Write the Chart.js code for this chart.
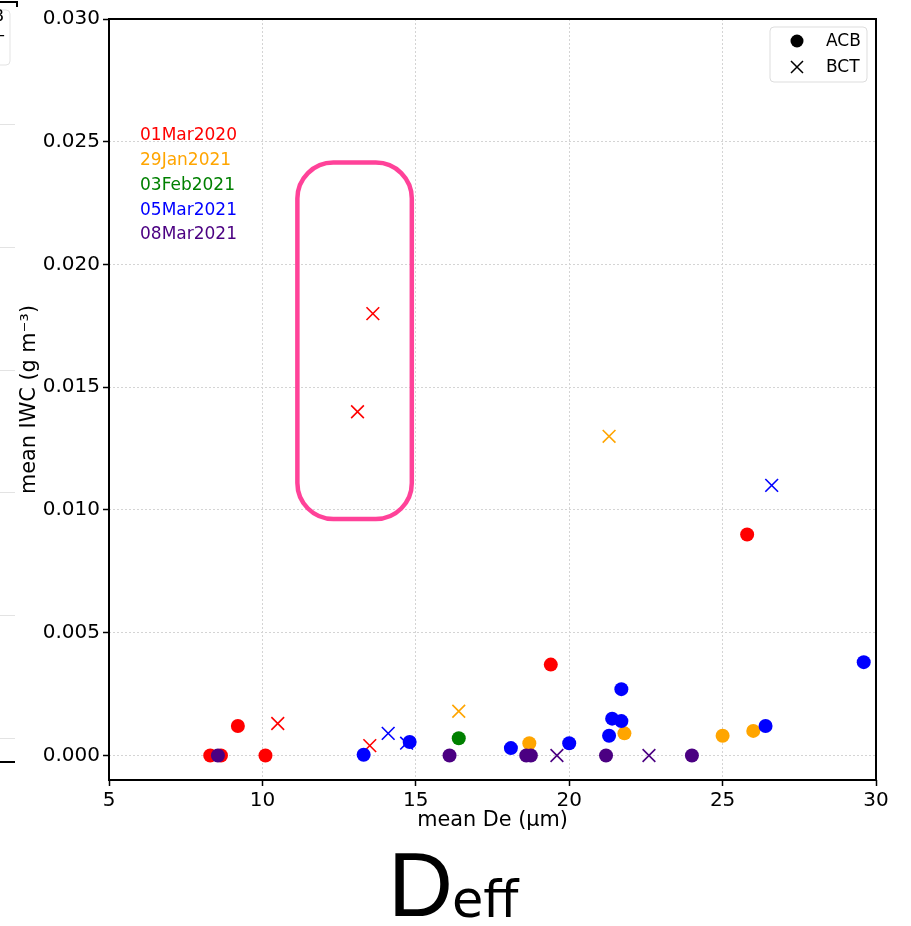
<!DOCTYPE html>
<html>
<head>
<meta charset="utf-8">
<title>mean IWC vs mean De</title>
<script src="https://cdn.jsdelivr.net/npm/chart.js@4.4.1/dist/chart.umd.min.js"></script>
<style>
  html, body { margin: 0; padding: 0; background: #ffffff; }
  #wrap { width: 911px; height: 926px; }
</style>
</head>
<body>
<div id="wrap"><canvas id="c" width="911" height="926"></canvas></div>
<script>
// ---- flight dates and their colours ----
const flightDates = ['01Mar2020', '29Jan2021', '03Feb2021', '05Mar2021', '08Mar2021'];
const flightColors = ['#ff0000', '#ffa500', '#008000', '#0000ff', '#4b0082'];

// ---- axis ticks ----
const xTicks = [5, 10, 15, 20, 25, 30];
const yTicks = [0.000, 0.005, 0.010, 0.015, 0.020, 0.025, 0.030];

// ---- 01Mar2020 ----
const mar2020AcbDe  = [8.3, 8.65, 9.2, 10.1, 19.4, 25.8];
const mar2020AcbIwc = [0.0, 0.0, 0.0012, 0.0, 0.0037, 0.009];
const mar2020BctDe  = [10.5, 13.5, 13.1, 13.6];
const mar2020BctIwc = [0.0013, 0.0004, 0.014, 0.018];

// ---- 29Jan2021 ----
const jan2021AcbDe  = [18.7, 21.8, 25.0, 26.0];
const jan2021AcbIwc = [0.0005, 0.0009, 0.0008, 0.001];
const jan2021BctDe  = [16.4, 21.3];
const jan2021BctIwc = [0.0018, 0.013];

// ---- 03Feb2021 ----
const feb2021AcbDe  = [16.4];
const feb2021AcbIwc = [0.0007];
const feb2021BctDe  = [];
const feb2021BctIwc = [];

// ---- 05Mar2021 ----
const mar2021aAcbDe  = [13.3, 14.8, 18.1, 20.0, 21.3, 21.4, 21.7, 21.7, 26.4, 29.6];
const mar2021aAcbIwc = [0.00003, 0.00055, 0.0003, 0.0005, 0.0008, 0.0015, 0.0014, 0.0027, 0.0012, 0.0038];
const mar2021aBctDe  = [14.1, 14.7, 26.6];
const mar2021aBctIwc = [0.0009, 0.0005, 0.011];

// ---- 08Mar2021 ----
const mar2021bAcbDe  = [8.55, 16.1, 18.6, 18.75, 21.2, 24.0];
const mar2021bAcbIwc = [0.0, 0.0, 0.0, 0.0, 0.0, 0.0];
const mar2021bBctDe  = [19.6, 22.6];
const mar2021bBctIwc = [0.0, 0.0];

// highlighted region (data units): De range and IWC range
const highlightDe  = [11.14, 14.87];
const highlightIwc = [0.00963, 0.02415];

const acbByFlight = [
  [mar2020AcbDe, mar2020AcbIwc], [jan2021AcbDe, jan2021AcbIwc], [feb2021AcbDe, feb2021AcbIwc],
  [mar2021aAcbDe, mar2021aAcbIwc], [mar2021bAcbDe, mar2021bAcbIwc]
];
const bctByFlight = [
  [mar2020BctDe, mar2020BctIwc], [jan2021BctDe, jan2021BctIwc], [feb2021BctDe, feb2021BctIwc],
  [mar2021aBctDe, mar2021aBctIwc], [mar2021bBctDe, mar2021bBctIwc]
];

function toPoints(xs, ys) { return xs.map((x, i) => ({ x: x, y: ys[i] })); }

// plotting sequence: per flight, BCT crosses then ACB dots; later ones sit on top
const datasets = [];
let seq = 0;
flightDates.forEach((d, i) => {
  datasets.push({
    label: d + ' BCT',
    data: toPoints(bctByFlight[i][0], bctByFlight[i][1]),
    pointStyle: 'crossRot',
    pointRadius: 9,
    pointHoverRadius: 9,
    borderColor: flightColors[i],
    backgroundColor: flightColors[i],
    pointBorderWidth: 1.6,
    order: 100 - (seq++)
  });
  datasets.push({
    label: d + ' ACB',
    data: toPoints(acbByFlight[i][0], acbByFlight[i][1]),
    pointStyle: 'circle',
    pointRadius: 7,
    pointHoverRadius: 7,
    borderColor: flightColors[i],
    backgroundColor: flightColors[i],
    pointBorderWidth: 0,
    order: 100 - (seq++)
  });
});

const FONT = 'DejaVu Sans';
Chart.defaults.font.family = FONT;
Chart.defaults.color = '#000000';

function roundRectPath(ctx, x, y, w, h, r) {
  ctx.beginPath();
  ctx.moveTo(x + r, y);
  ctx.lineTo(x + w - r, y);
  ctx.arcTo(x + w, y, x + w, y + r, r);
  ctx.lineTo(x + w, y + h - r);
  ctx.arcTo(x + w, y + h, x + w - r, y + h, r);
  ctx.lineTo(x + r, y + h);
  ctx.arcTo(x, y + h, x, y + h - r, r);
  ctx.lineTo(x, y + r);
  ctx.arcTo(x, y, x + r, y, r);
  ctx.closePath();
}

const decorations = {
  id: 'decorations',
  beforeDraw(chart) {
    const ctx = chart.ctx;
    ctx.save();
    ctx.fillStyle = '#ffffff';
    ctx.fillRect(0, 0, chart.width, chart.height);
    ctx.restore();
  },
  afterDraw(chart) {
    const ctx = chart.ctx;
    const a = chart.chartArea;
    const sx = chart.scales.x, sy = chart.scales.y;
    ctx.save();

    // axes frame
    ctx.strokeStyle = '#000000';
    ctx.lineWidth = 2;
    ctx.strokeRect(a.left, a.top, a.right - a.left, a.bottom - a.top);

    // highlighted region
    const hx0 = sx.getPixelForValue(highlightDe[0]);
    const hx1 = sx.getPixelForValue(highlightDe[1]);
    const hy0 = sy.getPixelForValue(highlightIwc[1]);
    const hy1 = sy.getPixelForValue(highlightIwc[0]);
    ctx.strokeStyle = '#ff4299';
    ctx.lineWidth = 4.5;
    roundRectPath(ctx, hx0, hy0, hx1 - hx0, hy1 - hy0, 36);
    ctx.stroke();

    // flight date labels
    ctx.font = '17px "' + FONT + '"';
    ctx.textAlign = 'left';
    ctx.textBaseline = 'middle';
    flightDates.forEach((d, i) => {
      ctx.fillStyle = flightColors[i];
      ctx.fillText(d, a.left + 31, a.top + 117 + i * 24.7);
    });

    // marker legend, upper right
    const lx = a.right - 106, ly = a.top + 8;
    ctx.strokeStyle = '#dddddd';
    ctx.lineWidth = 1;
    roundRectPath(ctx, lx, ly, 97, 55, 4);
    ctx.fillStyle = 'rgba(255,255,255,0.8)';
    ctx.fill();
    ctx.stroke();
    ctx.fillStyle = '#000000';
    ctx.beginPath();
    ctx.arc(lx + 27, ly + 14, 6.5, 0, Math.PI * 2);
    ctx.fill();
    ctx.strokeStyle = '#000000';
    ctx.lineWidth = 1.5;
    ctx.beginPath();
    ctx.moveTo(lx + 21, ly + 34); ctx.lineTo(lx + 33, ly + 46);
    ctx.moveTo(lx + 33, ly + 34); ctx.lineTo(lx + 21, ly + 46);
    ctx.stroke();
    ctx.font = '17px "' + FONT + '"';
    ctx.fillText('ACB', lx + 56, ly + 15);
    ctx.fillText('BCT', lx + 56, ly + 41);

    // edge of the neighbouring panel on the left
    ctx.strokeStyle = '#000000';
    ctx.lineWidth = 2;
    ctx.beginPath();
    ctx.moveTo(0, 2); ctx.lineTo(17, 2); ctx.lineTo(17, 7);
    ctx.moveTo(0, 762); ctx.lineTo(15, 762);
    ctx.stroke();
    ctx.strokeStyle = '#e3e3e3';
    ctx.lineWidth = 1;
    [124, 247, 370, 492, 615, 738].forEach(y => {
      ctx.beginPath(); ctx.moveTo(0, y + 0.5); ctx.lineTo(15, y + 0.5); ctx.stroke();
    });
    roundRectPath(ctx, -20, 10, 30, 55, 4);
    ctx.stroke();
    ctx.fillStyle = '#000000';
    ctx.font = '16.5px "' + FONT + '"';
    ctx.textAlign = 'right';
    ctx.fillText('ACB', 4, 17);
    ctx.fillText('BCT', 4, 43);

    // figure caption
    ctx.textAlign = 'left';
    ctx.textBaseline = 'alphabetic';
    ctx.fillStyle = '#000000';
    ctx.font = '90px "Liberation Sans"';
    const dW = ctx.measureText('D').width;
    ctx.fillText('D', 388, 916);
    ctx.font = '51px "DejaVu Sans"';
    ctx.fillText('eff', 388 + dW - 1, 917);

    ctx.restore();
  }
};

new Chart(document.getElementById('c'), {
  type: 'scatter',
  data: { datasets: datasets },
  options: {
    responsive: false,
    animation: false,
    layout: { padding: { left: 0, right: 35, top: 19, bottom: 93 } },
    plugins: { legend: { display: false }, tooltip: { enabled: false } },
    scales: {
      x: {
        type: 'linear',
        min: xTicks[0],
        max: xTicks[xTicks.length - 1],
        afterBuildTicks: s => { s.ticks = xTicks.map(v => ({ value: v })); },
        afterFit: s => { s.height = 53; },
        ticks: {
          font: { size: 20, family: FONT },
          color: '#000000',
          padding: 3,
          maxRotation: 0,
          callback: v => String(v)
        },
        grid: {
          color: '#d4d4d4', lineWidth: 1, borderDash: [2, 2],
          tickLength: 6, tickWidth: 1.5, tickColor: '#000000'
        },
        border: { display: false, dash: [2, 2] },
        title: {
          display: true, text: 'mean De (μm)',
          font: { size: 20.8, family: FONT }, color: '#000000',
          padding: { top: 0, bottom: 0 }
        }
      },
      y: {
        type: 'linear',
        min: -0.001,
        max: yTicks[yTicks.length - 1],
        afterBuildTicks: s => { s.ticks = yTicks.map(v => ({ value: v })); },
        afterFit: s => { s.width = 109; },
        ticks: {
          font: { size: 20, family: FONT },
          color: '#000000',
          padding: 3,
          callback: v => Number(v).toFixed(3)
        },
        grid: {
          color: '#d4d4d4', lineWidth: 1, borderDash: [2, 2],
          tickLength: 6, tickWidth: 1.5, tickColor: '#000000'
        },
        border: { display: false, dash: [2, 2] },
        title: {
          display: true, text: 'mean IWC (g m⁻³)',
          font: { size: 20.8, family: FONT }, color: '#000000',
          padding: { top: 17.5, bottom: 0 }
        }
      }
    }
  },
  plugins: [decorations]
});
</script>
</body>
</html>
